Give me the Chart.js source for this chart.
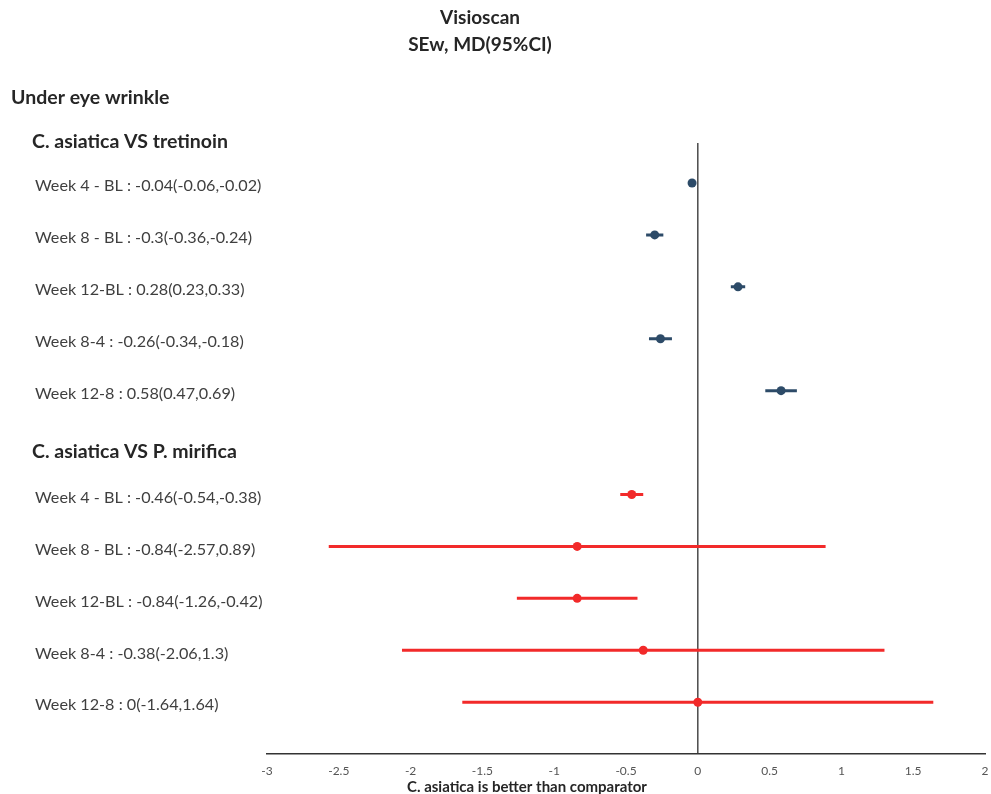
<!DOCTYPE html>
<html>
<head>
<meta charset="utf-8">
<script src="https://cdn.jsdelivr.net/npm/chart.js@4.4.0/dist/chart.umd.min.js"></script>
<style>
html,body{margin:0;padding:0;background:#fff;overflow:hidden;width:991px;height:794px;}
#wrap{width:991px;height:794px;position:relative;overflow:hidden;}
canvas{display:block;}
</style>
</head>
<body>
<div id="wrap"><canvas id="c" width="991" height="794"></canvas></div>
<script>
// ---- data ----
const groupHeaders = ["C. asiatica VS tretinoin", "C. asiatica VS P. mirifica"];
const tretinoinLabels = ["Week 4 - BL", "Week 8 - BL", "Week 12-BL", "Week 8-4", "Week 12-8"];
const tretinoinMD   = [-0.04, -0.3, 0.28, -0.26, 0.58];
const tretinoinLow  = [-0.06, -0.36, 0.23, -0.34, 0.47];
const tretinoinHigh = [-0.02, -0.24, 0.33, -0.18, 0.69];
const mirificaLabels = ["Week 4 - BL", "Week 8 - BL", "Week 12-BL", "Week 8-4", "Week 12-8"];
const mirificaMD   = [-0.46, -0.84, -0.84, -0.38, 0];
const mirificaLow  = [-0.54, -2.57, -1.26, -2.06, -1.64];
const mirificaHigh = [-0.38, 0.89, -0.42, 1.3, 1.64];
const xTicks = [-3, -2.5, -2, -1.5, -1, -0.5, 0, 0.5, 1, 1.5, 2];

const FONT = "Lato, 'Open Sans', sans-serif";
const BLUE = "#2d4b68";
const RED = "#f22a2a";

// row index: group 1 rows 0..4, gap at 5, group 2 rows 6..10
const rows = [];
tretinoinLabels.forEach((l, i) => rows.push({label: l, md: tretinoinMD[i], lo: tretinoinLow[i], hi: tretinoinHigh[i], idx: i, color: BLUE}));
mirificaLabels.forEach((l, i) => rows.push({label: l, md: mirificaMD[i], lo: mirificaLow[i], hi: mirificaHigh[i], idx: i + 6, color: RED}));

function fmt(r){ return r.label + " : " + r.md + "(" + r.lo + "," + r.hi + ")"; }

const datasets = [];
rows.forEach(r => {
  datasets.push({
    type: 'line',
    data: [{x: r.lo, y: r.idx}, {x: r.hi, y: r.idx}],
    borderColor: r.color, borderWidth: 3, pointRadius: 0, fill: false
  });
});
datasets.push({
  type: 'scatter',
  data: rows.slice(0,5).map(r => ({x: r.md, y: r.idx})),
  backgroundColor: BLUE, borderColor: BLUE, pointRadius: 4.5, pointBorderWidth: 0
});
datasets.push({
  type: 'scatter',
  data: rows.slice(5).map(r => ({x: r.md, y: r.idx})),
  backgroundColor: RED, borderColor: RED, pointRadius: 4.5, pointBorderWidth: 0
});

const textPlugin = {
  id: 'texts',
  beforeDraw(chart){
    const {ctx, chartArea, scales} = chart;
    const x0 = scales.x.getPixelForValue(0);
    ctx.save();
    ctx.strokeStyle = "#4a4a4a";
    ctx.lineWidth = 1.5;
    ctx.beginPath();
    ctx.moveTo(x0, chartArea.top);
    ctx.lineTo(x0, chartArea.bottom);
    ctx.stroke();
    ctx.restore();
  },
  afterDraw(chart){
    const {ctx, scales} = chart;
    const y = scales.y;
    ctx.save();
    ctx.textBaseline = 'middle';
    // titles
    ctx.fillStyle = "#262626";
    ctx.textAlign = 'center';
    ctx.font = "bold 19px " + FONT;
    ctx.fillText("Visioscan", 480, 18);
    ctx.fillText("SEw, MD(95%CI)", 480, 45);
    ctx.textAlign = 'left';
    ctx.font = "bold 19.5px " + FONT;
    ctx.fillText("Under eye wrinkle", 11, 98);
    ctx.fillText(groupHeaders[0], 32, y.getPixelForValue(-0.8));
    ctx.fillText(groupHeaders[1], 32, y.getPixelForValue(5.17));
    ctx.font = "16.2px " + FONT;
    ctx.fillStyle = "#3f3f3f";
    rows.forEach(r => {
      ctx.fillText(fmt(r), 35, y.getPixelForValue(r.idx) + 3);
    });
    ctx.textAlign = 'center';
    ctx.font = "bold 15px " + FONT;
    ctx.fillStyle = "#262626";
    ctx.fillText("C. asiatica is better than comparator", 527, 787);
    ctx.restore();
  }
};

new Chart(document.getElementById('c'), {
  data: { datasets },
  options: {
    responsive: false,
    animation: false,
    devicePixelRatio: 1,
    layout: { autoPadding: false, padding: { left: 267, right: 6, top: 143, bottom: 6 } },
    plugins: { legend: { display: false }, tooltip: { enabled: false } },
    scales: {
      x: {
        type: 'linear', min: -3, max: 2,
        afterBuildTicks(s){ s.ticks = xTicks.map(v => ({value: v})); },
        afterFit(s){ s.paddingRight = 0; s.paddingLeft = 0; },
        grid: { display: false, drawTicks: false },
        border: { display: true, color: "#333", width: 1.5 },
        ticks: { color: "#555", font: { family: FONT, size: 12 }, padding: 10, callback: v => String(v) }
      },
      y: {
        type: 'linear', reverse: true, min: -0.77, max: 10.99,
        display: false
      }
    }
  },
  plugins: [textPlugin]
});
</script>
</body>
</html>
